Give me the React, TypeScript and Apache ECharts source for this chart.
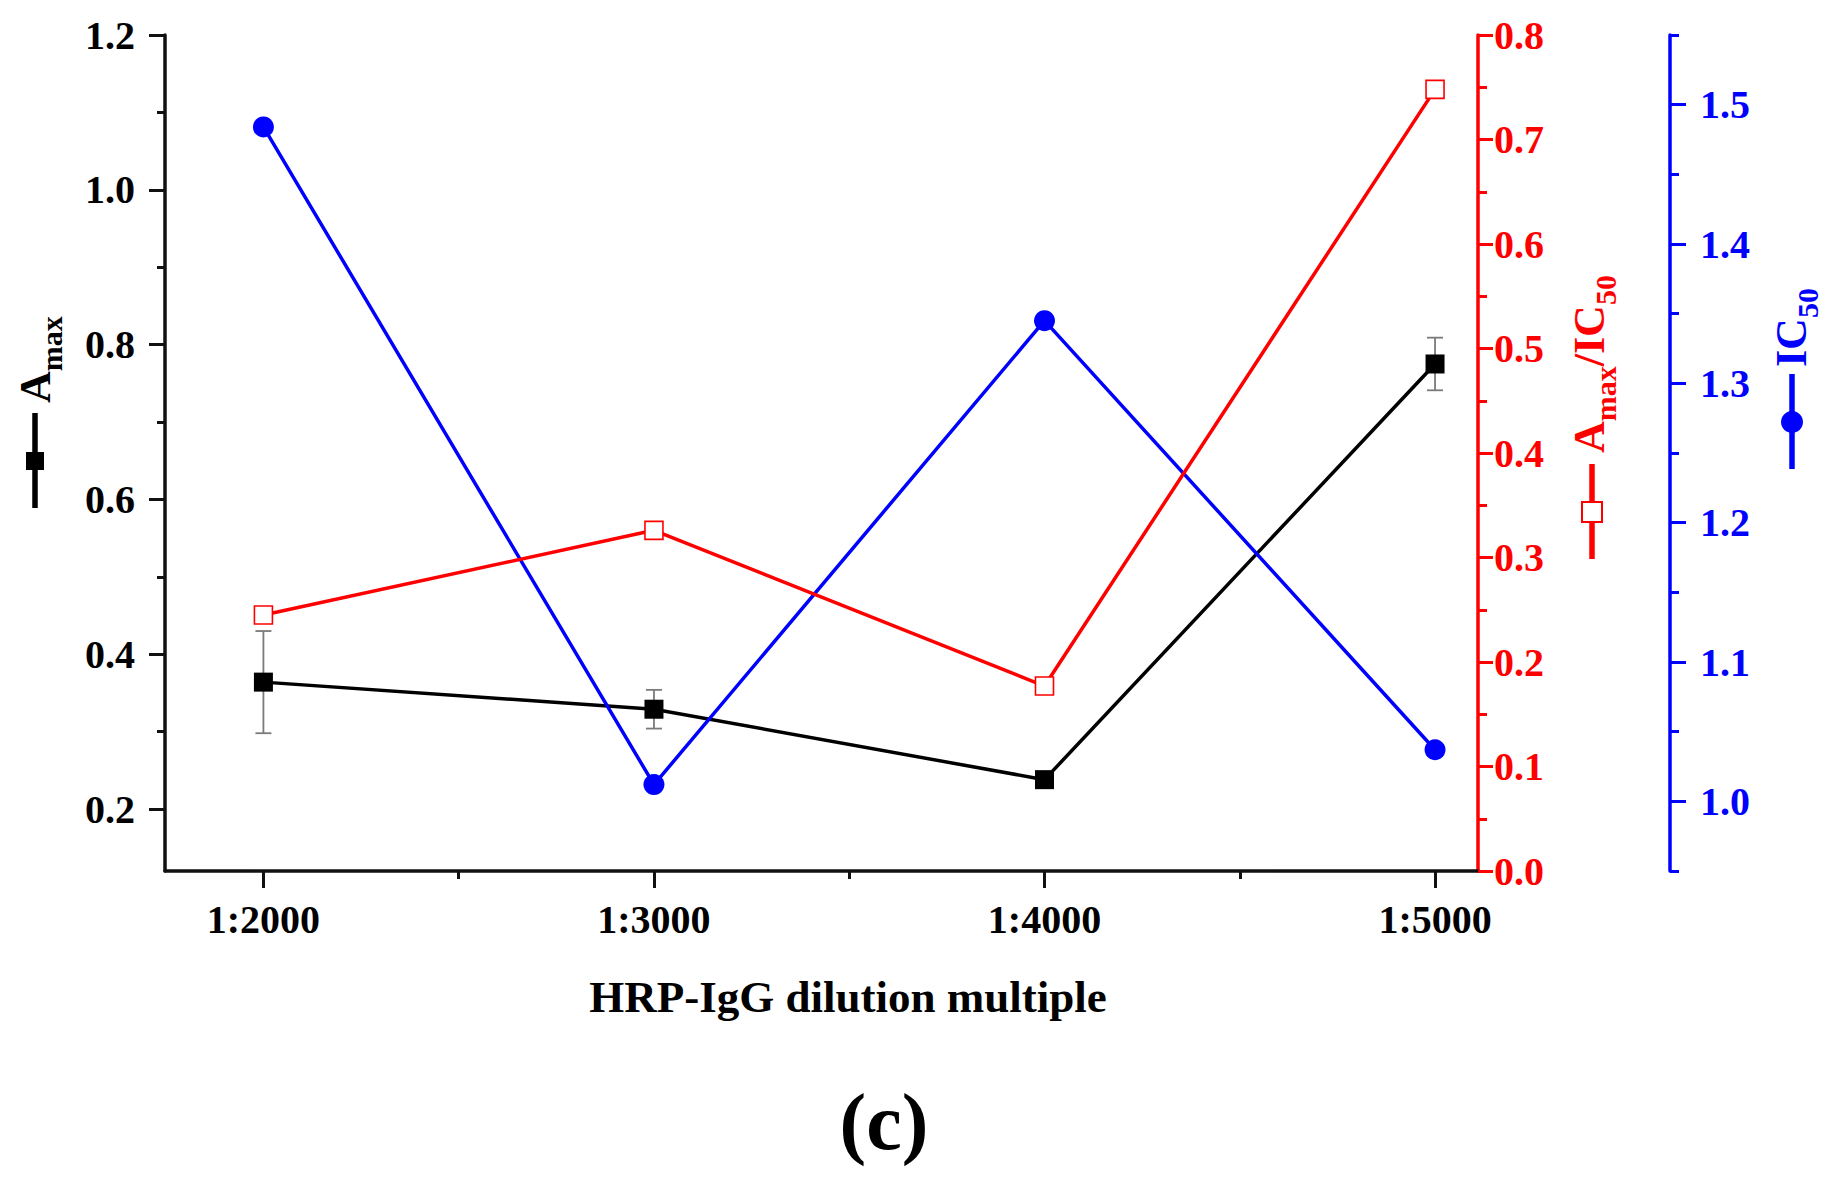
import { useEffect, useRef } from "react";
import * as echarts from "echarts";

// dilution multiple (1:x)
const dilutions = [2000, 3000, 4000, 5000];
const amax = [0.364, 0.329, 0.238, 0.775];
const amaxErr = [0.066, 0.025, 0.005, 0.034];
const amaxOverIc50 = [0.245, 0.326, 0.177, 0.748];
const ic50 = [1.484, 1.012, 1.345, 1.037];

const xMajor = [2000, 3000, 4000, 5000];
const xMinor = [2500, 3500, 4500];
const amaxMajor = [0.2, 0.4, 0.6, 0.8, 1.0, 1.2];
const amaxMinor = [0.3, 0.5, 0.7, 0.9, 1.1];
const ic50Major = [1.0, 1.1, 1.2, 1.3, 1.4, 1.5];
const ic50Minor = [0.95, 1.05, 1.15, 1.25, 1.35, 1.45, 1.55];

const SERIF = '"Liberation Serif", "Times New Roman", serif';
const RED = "#ff0000";
const BLUE = "#0000ff";
const INK = "#111";

const measureCtx = document.createElement("canvas").getContext("2d")!;
function textWidth(t: string, size: number) {
  measureCtx.font = `bold ${size}px ${SERIF}`;
  return measureCtx.measureText(t).width;
}

type Piece = { t: string; sub?: boolean };

// rotated axis title: legend glyph (line + marker) followed by text with subscripts
function axisTitle(cx: number, cy: number, color: string, marker: "square" | "open" | "dot",
  pieces: Piece[], textStart: number, base: number): any {
  const main = 44, sub = 30;
  const children: any[] = [
    { type: "line", shape: { x1: -47, y1: 0, x2: 48, y2: 0 }, style: { stroke: color, lineWidth: 5.5 } },
  ];
  if (marker === "dot") {
    children.push({ type: "circle", shape: { cx: 0, cy: 0, r: 11 }, style: { fill: color } });
  } else if (marker === "square") {
    children.push({ type: "rect", shape: { x: -9, y: -9, width: 18, height: 18 }, style: { fill: color } });
  } else {
    children.push({ type: "rect", shape: { x: -10, y: -10, width: 20, height: 20 },
      style: { fill: "#fff", stroke: color, lineWidth: 2 } });
  }
  let x = textStart;
  for (const p of pieces) {
    const size = p.sub ? sub : main;
    const b = p.sub ? base + 12 : base;
    children.push({
      type: "text", x, y: b - 0.34 * size,
      style: { text: p.t, fill: color, fontSize: size, fontWeight: "bold", fontFamily: SERIF,
        align: "left", verticalAlign: "middle" },
    });
    x += textWidth(p.t, size);
  }
  return { type: "group", x: cx, y: cy, rotation: Math.PI / 2, children };
}

const tickLabel = (color: string) => ({
  color, fontSize: 40, fontWeight: "bold" as const, fontFamily: SERIF,
});

export default function App() {
  const ref = useRef<HTMLDivElement>(null);

  useEffect(() => {
    if (!ref.current) return;
    const chart = echarts.init(ref.current, null, { renderer: "svg" });
    const fmt1 = (v: number) => v.toFixed(1);

    const option: any = {
      animation: false,
      backgroundColor: "#fff",
      grid: { left: 165, right: 358, top: 35, bottom: 317 },
      xAxis: [
        {
          type: "value", min: 1748, max: 5110,
          axisLine: { onZero: false, lineStyle: { color: INK, width: 3.5 } },
          axisTick: { customValues: xMajor, length: 17, lineStyle: { color: INK, width: 3 } },
          axisLabel: { ...tickLabel("#000"), customValues: xMajor, margin: 28, formatter: (v: number) => "1:" + v },
          splitLine: { show: false },
        },
        {
          type: "value", min: 1748, max: 5110, position: "bottom",
          axisLine: { show: false, onZero: false },
          axisTick: { customValues: xMinor, length: 8, lineStyle: { color: INK, width: 3 } },
          axisLabel: { show: false },
          splitLine: { show: false },
        },
      ],
      yAxis: [
        {
          type: "value", min: 0.12, max: 1.2, position: "left",
          axisLine: { show: true, lineStyle: { color: INK, width: 3.5 } },
          axisTick: { customValues: amaxMajor, length: 16, lineStyle: { color: INK, width: 3 } },
          axisLabel: { ...tickLabel("#000"), customValues: amaxMajor, margin: 30, formatter: fmt1 },
          splitLine: { show: false },
        },
        {
          type: "value", min: 0.12, max: 1.2, position: "left",
          axisLine: { show: false },
          axisTick: { customValues: amaxMinor, length: 8, lineStyle: { color: INK, width: 3 } },
          axisLabel: { show: false },
          splitLine: { show: false },
        },
        {
          type: "value", min: 0, max: 0.8, interval: 0.1, position: "right",
          axisLine: { show: true, lineStyle: { color: RED, width: 3.5 } },
          axisTick: { length: 15, lineStyle: { color: RED, width: 3 } },
          minorTick: { show: true, splitNumber: 2, length: 9, lineStyle: { color: RED, width: 3 } },
          axisLabel: { ...tickLabel(RED), margin: 16, formatter: fmt1 },
          splitLine: { show: false },
          minorSplitLine: { show: false },
        },
        {
          type: "value", min: 0.95, max: 1.55, position: "right", offset: 192,
          axisLine: { show: true, lineStyle: { color: BLUE, width: 3.5 } },
          axisTick: { customValues: ic50Major, length: 16, lineStyle: { color: BLUE, width: 3 } },
          axisLabel: { ...tickLabel(BLUE), customValues: ic50Major, margin: 30, formatter: fmt1 },
          splitLine: { show: false },
        },
        {
          type: "value", min: 0.95, max: 1.55, position: "right", offset: 192,
          axisLine: { show: false },
          axisTick: { customValues: ic50Minor, length: 9, lineStyle: { color: BLUE, width: 3 } },
          axisLabel: { show: false },
          splitLine: { show: false },
        },
      ],
      series: [
        {
          type: "custom", xAxisIndex: 0, yAxisIndex: 0,
          data: dilutions.map((d, i) => [d, amax[i] - amaxErr[i], amax[i] + amaxErr[i]]),
          encode: { x: 0, y: [1, 2] },
          renderItem: (_p: any, api: any) => {
            const x = api.value(0);
            const top = api.coord([x, api.value(2)]);
            const bot = api.coord([x, api.value(1)]);
            const hw = 8;
            const st = { stroke: "#7a7a7a", lineWidth: 1.8 };
            return {
              type: "group",
              children: [
                { type: "line", shape: { x1: top[0], y1: top[1], x2: bot[0], y2: bot[1] }, style: st },
                { type: "line", shape: { x1: top[0] - hw, y1: top[1], x2: top[0] + hw, y2: top[1] }, style: st },
                { type: "line", shape: { x1: bot[0] - hw, y1: bot[1], x2: bot[0] + hw, y2: bot[1] }, style: st },
              ],
            };
          },
        },
        {
          name: "Amax", type: "line", xAxisIndex: 0, yAxisIndex: 0,
          data: dilutions.map((d, i) => [d, amax[i]]),
          symbol: "rect", symbolSize: 19,
          itemStyle: { color: "#000" },
          lineStyle: { color: "#000", width: 3.5 },
        },
        {
          name: "IC50", type: "line", xAxisIndex: 0, yAxisIndex: 3,
          data: dilutions.map((d, i) => [d, ic50[i]]),
          symbol: "circle", symbolSize: 21,
          itemStyle: { color: BLUE },
          lineStyle: { color: BLUE, width: 3.5 },
        },
        {
          name: "Amax/IC50", type: "line", xAxisIndex: 0, yAxisIndex: 2,
          data: dilutions.map((d, i) => [d, amaxOverIc50[i]]),
          symbol: "rect", symbolSize: 18,
          itemStyle: { color: "#fff", borderColor: RED, borderWidth: 1.6 },
          lineStyle: { color: RED, width: 3.5 },
        },
      ],
      graphic: [
        axisTitle(35, 461, "#000", "square", [{ t: "A" }, { t: "max", sub: true }], 58, 15),
        axisTitle(1592, 512, RED, "open",
          [{ t: "A" }, { t: "max", sub: true }, { t: "/IC" }, { t: "50", sub: true }], 59, 12),
        axisTitle(1792, 422, BLUE, "dot", [{ t: "IC" }, { t: "50", sub: true }], 55, 14),
        {
          type: "text", x: 848, y: 997,
          style: { text: "HRP-IgG dilution multiple", fill: "#000", fontSize: 45, fontWeight: "bold",
            fontFamily: SERIF, align: "center", verticalAlign: "middle" },
        },
        {
          type: "text", x: 884, y: 1122,
          style: { text: "(c)", fill: "#000", fontSize: 80, fontWeight: "bold",
            fontFamily: SERIF, align: "center", verticalAlign: "middle" },
        },
      ],
    };
    chart.setOption(option);
    return () => chart.dispose();
  }, []);

  return <div ref={ref} style={{ position: "absolute", left: 0, top: 0, width: 1836, height: 1188 }} />;
}
